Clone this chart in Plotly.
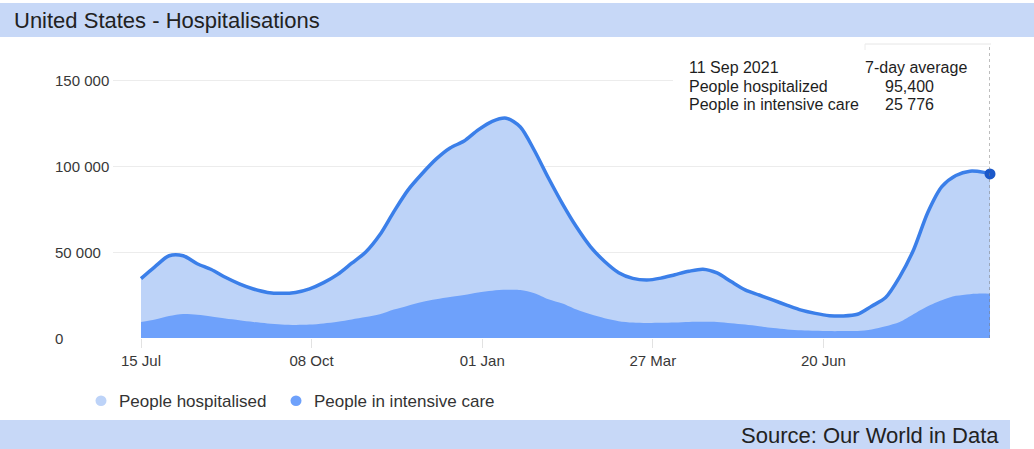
import pandas as pd
import plotly.graph_objects as go

# Weekly 7-day averages, United States, from 15 Jul 2020; last point is 11 Sep 2021
week_start = "2020-07-15"
last_day = "2021-09-11"

hospitalised = [
    34500, 41500, 47800, 47800, 43200, 39800, 35300, 31500, 28500, 26500,
    26000, 26500, 28600, 32200, 37000, 43500, 50000, 60000, 73500, 86000,
    95500, 104000, 110500, 114500, 121000, 126000, 127800, 122700, 109000, 93000,
    78000, 64500, 53000, 44500, 38000, 34700, 33700, 34800, 36800, 38800,
    40000, 37800, 32800, 28000, 25000, 22000, 19000, 16200, 14300, 13000,
    12800, 13800, 18500, 23500, 35500, 51500, 73000, 88000, 94500, 97000,
    96300, 95400,
]
intensive_care = [
    9300, 10800, 12800, 14000, 13500, 12500, 11300, 10300, 9300, 8500,
    7900, 7600, 7800, 8500, 9500, 10800, 12200, 13800, 16500, 18800,
    21000, 22500, 23800, 25000, 26500, 27500, 28000, 27900, 26000, 22500,
    20000, 16500, 13800, 11500, 9800, 9000, 8700, 8800, 9000, 9300,
    9400, 9300, 8600, 7800, 6800, 5800, 5000, 4500, 4200, 4000,
    4000, 4100, 5000, 6800, 9300, 14000, 18500, 22000, 24500, 25500,
    25800, 25776,
]

dates = list(pd.date_range(week_start, periods=len(hospitalised) - 1, freq="7D")) + [pd.Timestamp(last_day)]

x_tick_dates = ["2020-07-15", "2020-10-08", "2021-01-01", "2021-03-27", "2021-06-20"]
x_tick_labels = ["15 Jul", "08 Oct", "01 Jan", "27 Mar", "20 Jun"]
y_tick_values = [0, 50000, 100000, 150000]
y_tick_labels = ["0", "50 000", "100 000", "150 000"]

series_names = ["People hospitalised", "People in intensive care"]
tooltip_rows = ["People hospitalized", "People in intensive care"]

W, H = 1034, 449
FONT = "Arial, Liberation Sans, sans-serif"
LIGHT = "#bdd3f8"
MID = "#6ea1fb"
LINE = "#3b7fe9"
BAR = "#c7d8f7"
TICK_TEXT = "#383838"


def px(x):
    return x / W


def py(y):
    return (H - y) / H


fig = go.Figure()

fig.add_trace(go.Scatter(
    x=dates, y=hospitalised, name=series_names[0], mode="lines",
    line=dict(color=LINE, width=3.5, shape="spline", smoothing=0.8),
    fill="tozeroy", fillcolor=LIGHT, hoverinfo="skip",
))
fig.add_trace(go.Scatter(
    x=dates, y=intensive_care, name=series_names[1], mode="lines",
    line=dict(width=0, shape="spline", smoothing=0.8),
    fill="tozeroy", fillcolor=MID, hoverinfo="skip",
))
# highlighted last value
fig.add_trace(go.Scatter(
    x=[dates[-1]], y=[hospitalised[-1]], mode="markers",
    marker=dict(size=11, color="#1b58c9"), cliponaxis=False, hoverinfo="skip",
))

x_start = pd.Timestamp(week_start) - pd.Timedelta(hours=13.95 * 24)

fig.update_xaxes(
    domain=[px(113), px(990)],
    range=[x_start, pd.Timestamp(last_day)],
    tickvals=x_tick_dates, ticktext=x_tick_labels,
    showgrid=False, zeroline=False, showline=False,
    ticks="outside", ticklen=9, tickcolor="#e2e2e2", tickwidth=1,
    tickfont=dict(family=FONT, size=15, color=TICK_TEXT),
    automargin=False,
)
fig.update_yaxes(
    domain=[py(338), py(44)],
    range=[0, 170930],
    tickvals=y_tick_values, showticklabels=False,
    showgrid=True, gridcolor="#ececec", gridwidth=1,
    zeroline=False, showline=False, automargin=False,
)

shapes = [
    # title and source bands
    dict(type="rect", xref="paper", yref="paper", x0=0, x1=1, y0=py(37), y1=py(3),
         fillcolor=BAR, line=dict(width=0), layer="below"),
    dict(type="rect", xref="paper", yref="paper", x0=0, x1=px(1010), y0=py(449), y1=py(420),
         fillcolor=BAR, line=dict(width=0), layer="below"),
    # tooltip panel
    dict(type="rect", xref="paper", yref="paper", x0=px(673), x1=px(989), y0=py(122), y1=py(45),
         fillcolor="white", line=dict(width=0), layer="above"),
    dict(type="line", xref="paper", yref="paper", x0=px(865), x1=px(991), y0=py(44), y1=py(44),
         line=dict(color="#e6e6e6", width=1), layer="above"),
    dict(type="line", xref="paper", yref="paper", x0=px(865), x1=px(865), y0=py(44), y1=py(50),
         line=dict(color="#ececec", width=1), layer="above"),
    # hover guide
    dict(type="line", xref="x", yref="paper", x0=dates[-1], x1=dates[-1], y0=py(338), y1=py(44),
         line=dict(color="#7a7a7a", width=1, dash="dot"), layer="above"),
    # legend markers
    dict(type="circle", xref="paper", yref="paper", x0=px(95.5), x1=px(106.5), y0=py(406), y1=py(395.5),
         fillcolor=LIGHT, line=dict(width=0)),
    dict(type="circle", xref="paper", yref="paper", x0=px(290.5), x1=px(301.5), y0=py(406), y1=py(395.5),
         fillcolor=MID, line=dict(width=0)),
]

annotations = [
    dict(text="United States - Hospitalisations", x=px(12), y=py(20.5), xanchor="left", yanchor="middle",
         font=dict(family=FONT, size=22, color="#222")),
    dict(text="Source: Our World in Data", x=px(1001), y=py(435.5), xanchor="right", yanchor="middle",
         font=dict(family=FONT, size=22, color="#222")),
    dict(text=series_names[0], x=px(117), y=py(401), xanchor="left", yanchor="middle",
         font=dict(family=FONT, size=17, color="#333")),
    dict(text=series_names[1], x=px(312), y=py(401), xanchor="left", yanchor="middle",
         font=dict(family=FONT, size=17, color="#333")),
    # tooltip text
    dict(text=pd.Timestamp(last_day).strftime("%d %b %Y"), x=px(687), y=py(67), xanchor="left", yanchor="middle",
         font=dict(family=FONT, size=16, color="#1e1e1e")),
    dict(text="7-day average", x=px(863), y=py(67), xanchor="left", yanchor="middle",
         font=dict(family=FONT, size=16, color="#1e1e1e")),
    dict(text=tooltip_rows[0], x=px(687), y=py(86), xanchor="left", yanchor="middle",
         font=dict(family=FONT, size=16, color="#1e1e1e")),
    dict(text=f"{hospitalised[-1]:,}", x=px(936), y=py(86), xanchor="right", yanchor="middle",
         font=dict(family=FONT, size=16, color="#1e1e1e")),
    dict(text=tooltip_rows[1], x=px(687), y=py(104), xanchor="left", yanchor="middle",
         font=dict(family=FONT, size=16, color="#1e1e1e")),
    dict(text=f"{intensive_care[-1]:,}".replace(",", " "), x=px(936), y=py(104), xanchor="right", yanchor="middle",
         font=dict(family=FONT, size=16, color="#1e1e1e")),
]

# y tick labels, left aligned
for v, t in zip(y_tick_values, y_tick_labels):
    annotations.append(dict(text=t, xref="paper", yref="y", x=px(53), y=v, xanchor="left", yanchor="middle",
                            showarrow=False, font=dict(family=FONT, size=15, color=TICK_TEXT)))

for a in annotations:
    a.setdefault("xref", "paper")
    a.setdefault("yref", "paper")
    a.setdefault("showarrow", False)

fig.update_layout(
    width=W, height=H,
    margin=dict(l=0, r=0, t=0, b=0),
    paper_bgcolor="white", plot_bgcolor="white",
    showlegend=False,
    shapes=shapes, annotations=annotations,
)

fig.write_html("out.html", config={"displayModeBar": False})
